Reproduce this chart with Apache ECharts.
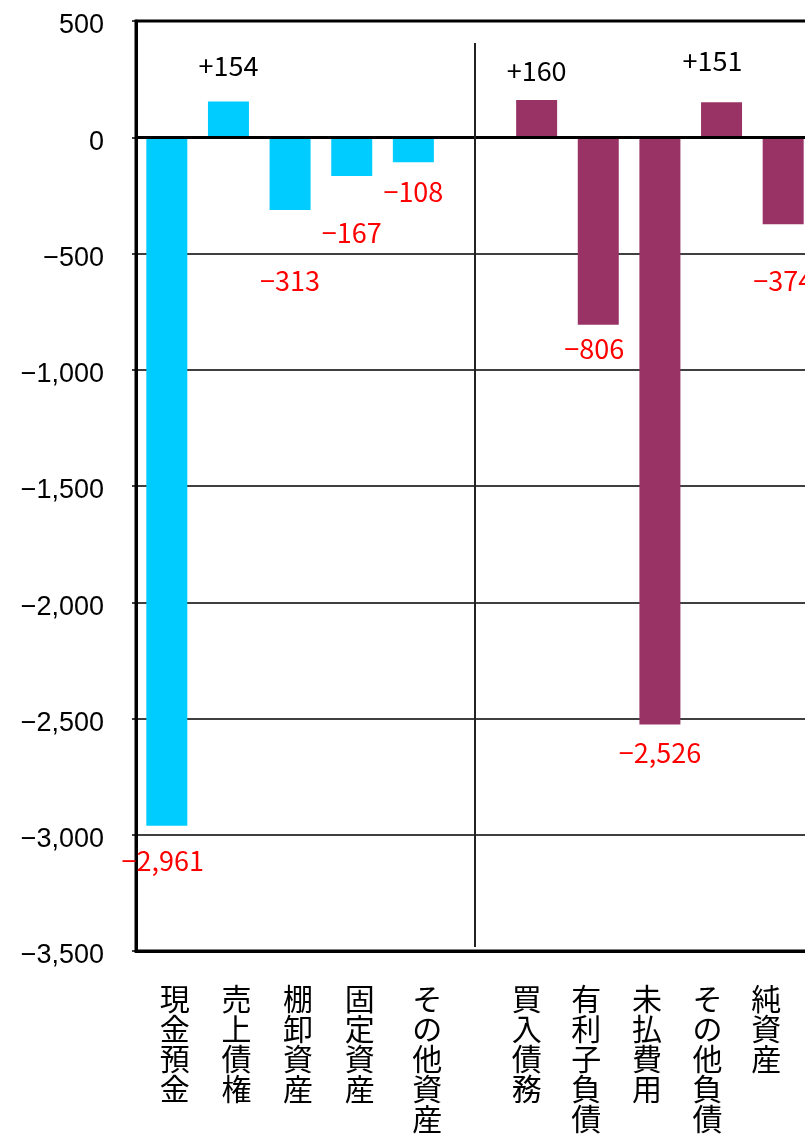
<!DOCTYPE html>
<html>
<head>
<meta charset="utf-8">
<script src="https://cdn.jsdelivr.net/npm/echarts@6/dist/echarts.min.js"></script>
<style>
    html, body { margin: 0; padding: 0; background: #fff; }
    #chart { width: 805px; height: 1138px; }
</style>
</head>
<body>
<div id="chart"></div>
<script>
// categories (empty slot separates assets from liabilities)
const categories = ['現金預金', '売上債権', '棚卸資産', '固定資産', 'その他資産', '', '買入債務', '有利子負債', '未払費用', 'その他負債', '純資産']
const assetValues = [-2961, 154, -313, -167, -108, '-', '-', '-', '-', '-', '-']
const liabilityValues = ['-', '-', '-', '-', '-', '-', 160, -806, -2526, 151, -374]
const yTicks = { min: -3500, max: 500, step: 500 }

// hand placed label distances (from bar end) and horizontal nudges
const labelDist = [22, 22, 57, 43, 16, 0, 16, 11, 15, 28, 43]
const labelDx = [-4, 0, 0, 0, 0, 0, 0, -4, 0, -9, 0]
// category label horizontal nudge
const catDx = [8, 8, 8, 8, 14, 0, -10, -12, -13, -14, -17]

const c = {
    asset: '#00CCFF',
    liability: '#993366',
    pos: '#000000',
    neg: '#FF0000',
    line: '#000000',
}

function fmtNum(v) {
    return Math.abs(v).toLocaleString('en-US')
}

function signed(v) {
    return (v >= 0 ? '+' : '\u2212') + fmtNum(v)
}

function buildData(values) {
    return values.map((v, i) => {
        if (v === '-') return '-'
        return {
            value: v,
            label: {
                show: true,
                position: v >= 0 ? 'top' : 'bottom',
                distance: labelDist[i],
                offset: [labelDx[i], 0],
                color: v >= 0 ? c.pos : c.neg,
            },
        }
    })
}

const labelStyle = {
    fontFamily: '"Noto Sans CJK JP", sans-serif',
    fontSize: 27,
    formatter: (p) => signed(p.value),
}

const chart = echarts.init(document.getElementById('chart'))

chart.setOption({
    animation: false,
    grid: {
        left: 136,
        width: 678,
        top: 21,
        bottom: 187,
        outerBoundsMode: 'none',
        containLabel: false,
        show: true,
        borderColor: c.line,
        borderWidth: 3,
        backgroundColor: 'transparent',
    },
    xAxis: {
        type: 'category',
        data: categories.map((name, i) => ({
            value: name,
            textStyle: { padding: catDx[i] >= 0 ? [0, 0, 0, catDx[i] * 2] : [0, -catDx[i] * 2, 0, 0] },
        })),
        position: 'bottom',
        axisLine: { onZero: false, lineStyle: { color: c.line, width: 3 } },
        axisTick: { show: false },
        axisLabel: {
            interval: 0,
            margin: 33,
            color: '#000',
            fontFamily: '"Noto Sans CJK JP", sans-serif',
            fontSize: 30,
            lineHeight: 30,
            verticalAlign: 'top',
            formatter: (v) => v.split('').join('\n'),
        },
        splitLine: { show: false },
    },
    yAxis: {
        type: 'value',
        min: yTicks.min,
        max: yTicks.max,
        interval: yTicks.step,
        axisLine: { show: true, lineStyle: { color: c.line, width: 3 } },
        axisTick: { show: true, length: 4, lineStyle: { color: c.line, width: 1.5 } },
        axisLabel: {
            color: '#000',
            fontFamily: '"Liberation Sans", Arial, sans-serif',
            fontSize: 27,
            margin: 32,
            formatter: (v) => '{v|' + (v < 0 ? '\u2212' : '') + fmtNum(v) + '}',
            rich: {
                v: {
                    fontFamily: '"Liberation Sans", Arial, sans-serif',
                    fontSize: 27,
                    color: '#000',
                    padding: [10, 0, 0, 0],
                },
            },
        },
        splitLine: { lineStyle: { color: c.line, width: 1.5 } },
    },
    series: [
        {
            name: '資産',
            type: 'bar',
            stack: 'all',
            barWidth: 41,
            data: buildData(assetValues),
            itemStyle: { color: c.asset },
            label: labelStyle,
            markLine: {
                silent: true,
                symbol: 'none',
                label: { show: false },
                lineStyle: { color: c.line, width: 3, type: 'solid' },
                data: [{ yAxis: 0 }],
            },
        },
        {
            name: '負債・純資産',
            type: 'bar',
            stack: 'all',
            barWidth: 41,
            data: buildData(liabilityValues),
            itemStyle: { color: c.liability },
            label: labelStyle,
            markLine: {
                silent: true,
                symbol: 'none',
                label: { show: false },
                lineStyle: { color: '#222', width: 2, type: 'solid' },
                data: [[{ xAxis: 5, yAxis: 405 }, { xAxis: 5, yAxis: -3483 }]],
            },
        },
    ],
})
</script>
</body>
</html>
